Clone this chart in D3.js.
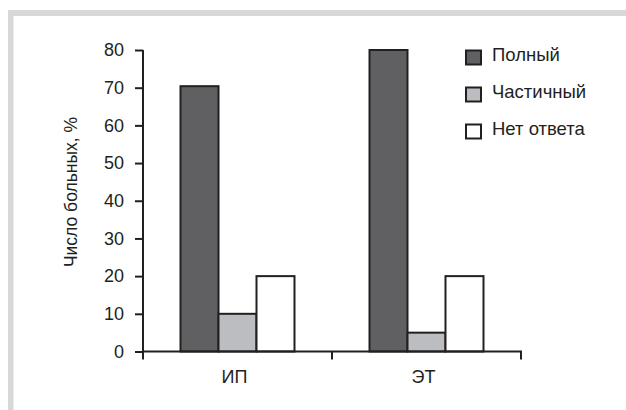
<!DOCTYPE html>
<html><head><meta charset="utf-8">
<script src="https://cdn.jsdelivr.net/npm/d3@7"></script>
<style>body{margin:0;background:#fff}svg{display:block}text{font-family:"Liberation Sans",Arial,sans-serif;fill:#231f20}</style>
</head><body>
<svg id="c" width="626" height="410"></svg>
<script>
const categories = ["ИП", "ЭТ"];
const seriesNames = ["Полный", "Частичный", "Нет ответа"];
const polny = [70.4, 80];
const chastichny = [10, 5];
const netOtveta = [20, 20];
const yTicks = [0, 10, 20, 30, 40, 50, 60, 70, 80];
const colors = ["#606062", "#bcbdc0", "#ffffff"];
const yTitle = "Число больных, %";

const series = [polny, chastichny, netOtveta];
const svg = d3.select("#c");
const ink = "#231f20";
const ff = '"Liberation Sans",Arial,sans-serif';

// frame (top and left gray bands)
svg.append("rect").attr("x", 8).attr("y", 10).attr("width", 618).attr("height", 6).attr("fill", "#d8d8d8");
svg.append("rect").attr("x", 8).attr("y", 10).attr("width", 5.5).attr("height", 400).attr("fill", "#d8d8d8");

const x0 = d3.scaleBand().domain(categories).range([143, 521]).padding(0);
const x1 = d3.scaleBand().domain(seriesNames).range([0, x0.bandwidth()]).paddingInner(0).paddingOuter(0.987);
const y = d3.scaleLinear().domain([0, 80]).range([351.5, 50]);

// bars
categories.forEach((c, ci) => {
  seriesNames.forEach((s, si) => {
    const v = series[si][ci];
    svg.append("rect")
      .attr("x", x0(c) + x1(s))
      .attr("y", y(v))
      .attr("width", x1.bandwidth())
      .attr("height", y(0) - y(v))
      .attr("fill", colors[si])
      .attr("stroke", ink)
      .attr("stroke-width", 2);
  });
});

// y axis
const yAxis = svg.append("g").attr("transform", "translate(143,0)")
  .call(d3.axisLeft(y).tickValues(yTicks).tickSize(8).tickPadding(11).tickSizeOuter(0));
yAxis.select(".domain").remove();
yAxis.append("line").attr("x1", 0).attr("x2", 0).attr("y1", y(80)).attr("y2", y(0) + 7).attr("stroke", ink).attr("stroke-width", 2);
yAxis.selectAll(".tick line").attr("stroke", ink).attr("stroke-width", 2);
yAxis.selectAll(".tick text").attr("font-size", 18).attr("fill", ink).style("font-family", ff);

// x axis
const xAxis = svg.append("g").attr("transform", `translate(0,${y(0)})`)
  .call(d3.axisBottom(x0).tickSize(0).tickPadding(19));
xAxis.select(".domain").remove();
xAxis.append("line").attr("x1", 142).attr("x2", 522).attr("y1", 0).attr("y2", 0).attr("stroke", ink).attr("stroke-width", 2);
const xTickPos = [143, ...categories.map(c => x0(c) + x0.bandwidth())];
xTickPos.forEach(p => {
  xAxis.append("line").attr("x1", p).attr("x2", p).attr("y1", 0).attr("y2", 8).attr("stroke", ink).attr("stroke-width", 2);
});
xAxis.selectAll(".tick text").attr("font-size", 18).attr("fill", ink).attr("dy", "0.71em").attr("dx", -3).style("font-family", ff);

// y title
svg.append("text")
  .attr("transform", "translate(77,192) rotate(-90)")
  .attr("text-anchor", "middle")
  .attr("font-size", 17.5)
  .text(yTitle);

// legend
const legY = d3.scalePoint().domain(seriesNames).range([57.5, 131.5]);
seriesNames.forEach((s, i) => {
  svg.append("rect").attr("x", 466).attr("y", legY(s) - 7).attr("width", 15).attr("height", 14)
    .attr("fill", colors[i]).attr("stroke", ink).attr("stroke-width", 2);
  svg.append("text").attr("x", 492).attr("y", legY(s) - 3).attr("dy", "0.35em").attr("font-size", 18.5).text(s);
});
</script>
</body></html>
